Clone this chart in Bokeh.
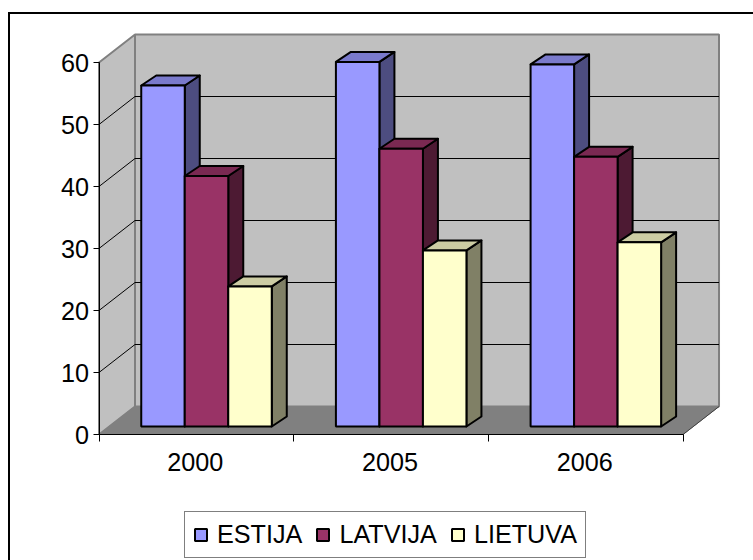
from bokeh.plotting import figure
from bokeh.embed import file_html
from bokeh.resources import INLINE
from bokeh.models import Range1d, FixedTicker, Legend, LegendItem

categories = ["2000", "2005", "2006"]
series_names = ["ESTIJA", "LATVIJA", "LIETUVA"]
estija = [55.0, 58.8, 58.4]
latvija = [40.4, 44.8, 43.5]
lietuva = [22.6, 28.4, 29.7]
y_ticks = [0, 10, 20, 30, 40, 50, 60]
front = ["#9999FF", "#993366", "#FFFFCC"]
top = ["#7A7ACC", "#7A2952", "#CCCCA3"]
side = ["#4D4D80", "#4D1A33", "#808066"]
FONT = "Liberation Sans"

# pixels per data unit and the chart's origin in the picture
PX_X, PX_Y = 194.67, 6.2
X0_PAGE, Y0_PAGE = 98.5, 434.0
W, H = 753, 560
def dx(px): return px / PX_X
def dy(px): return px / PX_Y

x_start = (0 - X0_PAGE) / PX_X
x_end = (W - X0_PAGE) / PX_X
y_end = Y0_PAGE / PX_Y
y_start = (Y0_PAGE - H) / PX_Y

p = figure(width=W, height=H, output_backend="svg", toolbar_location=None,
           x_range=Range1d(x_start, x_end), y_range=Range1d(y_start, y_end),
           min_border=0)
p.outline_line_color = None
p.grid.visible = False

WALL_X, WALL_Y = dx(36), dy(28)
YMAX = y_ticks[-1]
n = len(categories)

# chart-area border: only its left and top edges fall inside the window
p.line([dx(8.5 - X0_PAGE), dx(8.5 - X0_PAGE), x_end], [y_start, dy(Y0_PAGE - 12.5), dy(Y0_PAGE - 12.5)],
       line_color="#000000", line_width=2, line_join="miter")

# left wall, back wall, floor
p.patch([0, WALL_X, WALL_X, 0], [0, WALL_Y, YMAX + WALL_Y, YMAX], fill_color="#C0C0C0", line_color="#808080", line_width=2)
p.patch([WALL_X, n + WALL_X, n + WALL_X, WALL_X], [WALL_Y, WALL_Y, YMAX + WALL_Y, YMAX + WALL_Y],
        fill_color="#C0C0C0", line_color="#808080", line_width=2)
p.patch([0, n, n + WALL_X, WALL_X], [0, 0, WALL_Y, WALL_Y], fill_color="#808080", line_color="#808080", line_width=1)
p.line([n, n + WALL_X], [0, WALL_Y], line_color="#404040", line_width=1)

for t in y_ticks[1:-1]:
    p.line([0, WALL_X, n + WALL_X], [t, t + WALL_Y, t + WALL_Y], line_color="#000000", line_width=1)

# bars
BAR_LEFT, BAR_W = 0.217, 0.2235
BASE = dy(8)
SIDE_X, SIDE_Y = dx(15), dy(10)
legend_items = []
for s, vals in enumerate([estija, latvija, lietuva]):
    for c, v in enumerate(vals):
        l = c + BAR_LEFT + s * BAR_W
        r = l + BAR_W
        b = BASE
        t = BASE + v
        p.patch([r, r + SIDE_X, r + SIDE_X, r], [b, b + SIDE_Y, t + SIDE_Y, t],
                fill_color=side[s], line_color="#000000", line_width=2, line_join="round")
        p.patch([l, r, r + SIDE_X, l + SIDE_X], [t, t, t + SIDE_Y, t + SIDE_Y],
                fill_color=top[s], line_color="#000000", line_width=2, line_join="round")
    q = p.quad(left=[c + BAR_LEFT + s * BAR_W for c in range(n)],
               right=[c + BAR_LEFT + (s + 1) * BAR_W for c in range(n)],
               bottom=[BASE] * n, top=[BASE + v for v in vals],
               fill_color=front[s], line_color="#000000", line_width=2)
    legend_items.append(LegendItem(label=series_names[s], renderers=[q]))

# axes pinned inside the frame
ya = p.yaxis[0]
ya.fixed_location = 0
ya.bounds = (0, YMAX)
ya.ticker = FixedTicker(ticks=y_ticks)
ya.axis_line_color = "#000000"
ya.major_tick_line_color = "#000000"
ya.major_tick_out = 6
ya.major_tick_in = 0
ya.minor_tick_line_color = None
ya.major_label_standoff = 4
ya.major_label_text_font = FONT
ya.major_label_text_font_size = "25.2px"
ya.major_label_text_color = "#000000"

xa = p.xaxis[0]
xa.fixed_location = 0
xa.bounds = (0, n)
xa.ticker = FixedTicker(ticks=[i + 0.495 for i in range(n)], minor_ticks=list(range(n + 1)))
xa.major_label_overrides = {i + 0.495: categories[i] for i in range(n)}
xa.axis_line_color = "#000000"
xa.major_tick_line_color = None
xa.major_tick_out = 0
xa.major_tick_in = 0
xa.minor_tick_line_color = "#000000"
xa.minor_tick_out = 7
xa.minor_tick_in = 0
xa.major_label_standoff = 11
xa.major_label_text_font = FONT
xa.major_label_text_font_size = "25.2px"
xa.major_label_text_color = "#000000"

legend = Legend(items=legend_items, orientation="horizontal", location=(184, 2),
                label_text_font=FONT, label_text_font_size="25.2px", label_text_color="#000000",
                glyph_width=15, glyph_height=15, label_standoff=9, spacing=13, padding=8, margin=0,
                border_line_color="#000000", border_line_width=1, background_fill_color="#FFFFFF",
                background_fill_alpha=1)
p.add_layout(legend)

open("out.html", "w").write(file_html(p, INLINE))
